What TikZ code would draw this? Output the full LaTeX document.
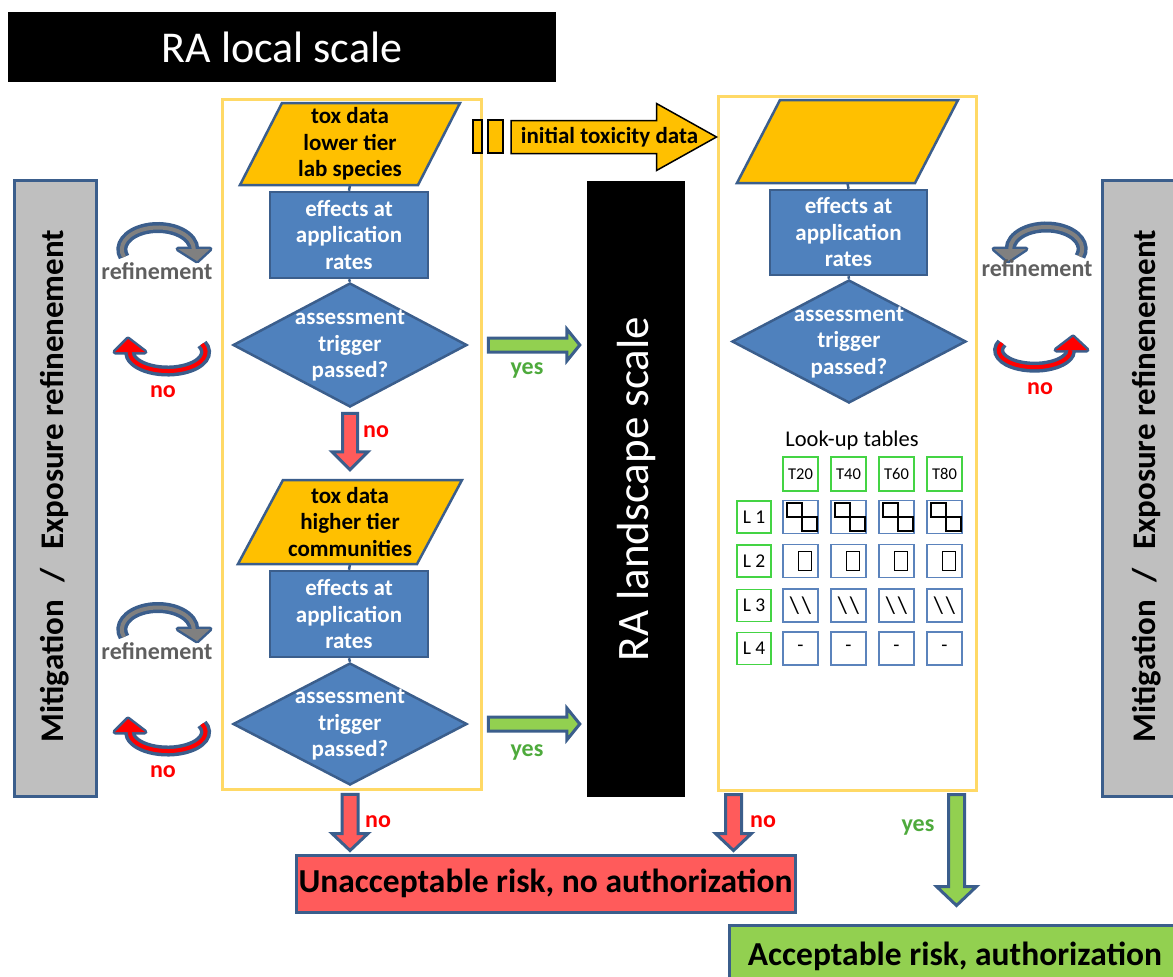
\documentclass[tikz,border=0pt]{standalone}
\usepackage{fontspec}
\setmainfont{Carlito}
\usetikzlibrary{shapes.geometric,calc}

\definecolor{bdark}{HTML}{3B5E8C}
\definecolor{bfill}{HTML}{4F81BD}
\definecolor{orng}{HTML}{FFC000}
\definecolor{redf}{HTML}{FF5B5B}
\definecolor{greenf}{HTML}{92D050}
\definecolor{yframe}{HTML}{FFD966}
\definecolor{barg}{HTML}{BFBFBF}
\definecolor{yestxt}{HTML}{4EAA3C}
\definecolor{notxt}{HTML}{FF0000}
\definecolor{reftxt}{HTML}{5F5F5F}
\definecolor{tgreen}{HTML}{44D444}
\definecolor{cellb}{HTML}{5B83BC}
\definecolor{loopgray}{HTML}{808080}

\newcommand\fsz[2]{\fontsize{#1}{#2}\selectfont}

% block arrow pointing down: start, tip, shaft half width, head half width, head length, style
\newcommand\vblock[6]{%
  \draw[#6] let \p1=#1, \p2=#2 in
    (\x1-#3,\y1) -- (\x1+#3,\y1) -- (\x1+#3,\y2+#5) -- (\x1+#4,\y2+#5) -- (\x1,\y2)
    -- (\x1-#4,\y2+#5) -- (\x1-#3,\y2+#5) -- cycle;}
% block arrow pointing right
\newcommand\hblock[6]{%
  \draw[#6] let \p1=#1, \p2=#2 in
    (\x1,\y1+#3) -- (\x2-#5,\y1+#3) -- (\x2-#5,\y1+#4) -- (\x2,\y1)
    -- (\x2-#5,\y1-#4) -- (\x2-#5,\y1-#3) -- (\x1,\y1-#3) -- cycle;}
% curved arrow: start point, arc options, head triangle, inner colour
\newcommand\curved[4]{%
  \filldraw[draw=bdark, line width=5, fill=#4, line join=round] #3;
  \draw[bdark, line width=11] #1 arc[#2];
  \draw[#4, line width=4] #1 arc[#2];
  \fill[#4] #3;}
% data parallelogram: name, x, y, half side, half slant, half height, text
\newcommand\para[7]{%
  \draw[parashape] let \p1=(#2,#3) in
    (\x1-#4+#5,\y1+#6) -- (\x1+#4+#5,\y1+#6) -- (\x1+#4-#5,\y1-#6) -- (\x1-#4-#5,\y1-#6) -- cycle;
  \node[ktext, minimum height={2*#6}, inner sep=0] (#1) at (#2,#3) {#7};}

\begin{document}
\begin{tikzpicture}[x=1pt,y=-1pt,
  frame/.style={draw=yframe, line width=3, minimum width=#1},
  parashape/.style={fill=orng, draw=bdark, line width=2.5, line join=miter},
  bbox/.style={rectangle, fill=bfill, draw=bdark, line width=2.5,
    minimum width=158, minimum height=86, inner sep=0, text=white, align=center,
    font=\bfseries\fsz{23}{26.5}},
  dia/.style={diamond, fill=bfill, draw=bdark, line width=2.5,
    minimum width=234, minimum height=124, inner sep=0},
  wtext/.style={text=white, align=center, font=\bfseries\fsz{23}{26.5}},
  ktext/.style={text=black, align=center, font=\bfseries\fsz{23}{26.5}},
  link/.style={draw=bdark, line width=2.5},
  redarrow/.style={fill=redf, draw=bdark, line width=3, line join=miter},
  greenarrow/.style={fill=greenf, draw=bdark, line width=3, line join=miter},
  nolbl/.style={text=notxt, font=\bfseries\fsz{24}{26}},
  yeslbl/.style={text=yestxt, font=\bfseries\fsz{24}{26}},
  reflbl/.style={text=reftxt, font=\bfseries\fsz{24}{26}},
  sidebar/.style={fill=barg, draw=bdark, line width=3, minimum width=82,
    minimum height=616, inner sep=0},
  sidetext/.style={rotate=90, font=\bfseries\fsz{33}{36}},
  tbox/.style={draw=tgreen, line width=1.5, minimum width=35, minimum height=34,
    inner sep=0, font=\fsz{16.5}{18}},
  lbox/.style={draw=tgreen, line width=1.5, minimum width=34, minimum height=32,
    inner sep=0, font=\fsz{19.5}{21}},
  cell/.style={draw=cellb, line width=1.5, minimum width=35, minimum height=33, inner sep=0},
  cellt/.style={font=\fsz{20}{22}},
  glyph/.style={draw=black, line width=2}
]
\useasboundingbox (0,0) rectangle (1173,977);

% ---- title ----
\node[fill=black, minimum width=548, minimum height=70, inner sep=0,
  text=white, font=\fsz{44}{46}] (title) at (282,47) {RA local scale};

% ---- side bars ----
\node[sidebar] (lbar) at (55,488.5) {};
\node[sidetext] (lbart) at (55,486) {Mitigation\hspace{0.55em}/\hspace{0.55em}Exposure refinenement};
\node[sidebar] (rbar) at (1143,488.5) {};
\node[sidetext] (rbart) at (1147,486) {Mitigation\hspace{0.55em}/\hspace{0.55em}Exposure refinenement};

% ---- frames ----
\node[frame=259, minimum height=690] (fr1) at (351.5,444) {};
\node[frame=258, minimum height=694] (fr2) at (847,443) {};

% ---- landscape scale bar ----
\node[fill=black, minimum width=98, minimum height=616, inner sep=0] (land) at (636,489) {};
\node[rotate=90, text=white, font=\fsz{45}{48}] (landt) at (636,489) {RA landscape scale};

% ---- lower tier column ----
\para{p1}{350}{144}{89}{21}{41}{tox data\\lower tier\\lab species}
\node[bbox] (r1) at (349,235) {effects at\\application\\rates};
\node[dia] (d1) at (350,345) {};
\node[wtext] (d1t) at (350,346) {assessment\\trigger\\passed?};
\draw[link] (p1.south) -- (r1.north);
\draw[link] (r1.south) -- (d1.north);

% ---- higher tier column ----
\para{p2}{350}{522}{89.5}{22.5}{42}{tox data\\higher tier\\communities}
\node[bbox] (r2) at (349,614) {effects at\\application\\rates};
\node[dia, minimum height=122] (d2) at (350,724) {};
\node[wtext] (d2t) at (350,725) {assessment\\trigger\\passed?};
\draw[link] (p2.south) -- (r2.north);
\draw[link] (r2.south) -- (d2.north);

% ---- landscape column ----
\para{p3}{847.5}{141.5}{89}{21.5}{41.5}{}
\node[bbox, minimum width=157, minimum height=85] (r3) at (848.5,232.5) {effects at\\application\\rates};
\node[dia, minimum height=123] (d3) at (849,341.5) {};
\node[wtext] (d3t) at (849,342.5) {assessment\\trigger\\passed?};
\draw[link] (p3.south) -- (r3.north);
\draw[link] (r3.south) -- (d3.north);

% ---- initial toxicity data arrow ----
\node[fill=orng, draw=black, line width=1.5, minimum width=9, minimum height=33, inner sep=0] (s1) at (477.5,136.5) {};
\node[fill=orng, draw=black, line width=1.5, minimum width=15, minimum height=33, inner sep=0] (s2) at (495.5,136.5) {};
\coordinate (istart) at (511,137);
\coordinate (itip) at (fr2.west |- istart);
\hblock{(istart)}{(itip)}{16.5}{33.5}{60}{fill=orng, draw=black, line width=1.5}
\node[ktext] (itext) at (609.5,137) {initial toxicity data};

% ---- decision arrows ----
\vblock{($(d1.south)+(0,5)$)}{($(p2.north)+(0,-10)$)}{7.5}{18}{18}{redarrow}
\node[nolbl] (no1) at (376,432) {no};
\hblock{($(d1.east)+(20,0)$)}{($(land.west |- d1.east)+(-7,0)$)}{7}{16}{13}{greenarrow}
\node[yeslbl] (yes1) at (527,370) {yes};
\hblock{($(d2.east)+(20,0)$)}{($(land.west |- d2.east)+(-7,0)$)}{7}{16}{13}{greenarrow}
\node[yeslbl] (yes2) at (527,752) {yes};

% ---- outcomes ----
\node[fill=redf, draw=bdark, line width=3, minimum width=499, minimum height=57, inner sep=0,
  font=\bfseries\fsz{33.5}{36}] (unacc) at (545.5,883.5) {Unacceptable risk, no authorization};
\node[fill=greenf, draw=bdark, line width=3, minimum width=452, minimum height=62, inner sep=0,
  font=\bfseries\fsz{33.5}{36}] (acc) at (955,956) {Acceptable risk, authorization};

\vblock{($(d2.south)+(0,8)$)}{($(d2.south |- unacc.north)+(0,-3)$)}{8}{18}{17}{redarrow}
\node[nolbl] (no2) at (378,822) {no};
\coordinate (rno) at ($(fr2.south west)+(17,3)$);
\vblock{(rno)}{($(rno |- unacc.north)+(0,-3)$)}{8}{18}{17}{redarrow}
\node[nolbl] (no3) at (763,822) {no};
\coordinate (gyes) at ($(fr2.south east)+(-21,3)$);
\vblock{(gyes)}{($(gyes |- acc.north)+(0,-18)$)}{8}{20}{19}{greenarrow}
\node[yeslbl] (yes3) at (918,827) {yes};

% ---- refinement loops, left ----
\foreach \dy/\k in {0/a,380/b} {
  \curved{(124,{257+\dy})}{start angle=200, end angle=0, x radius=36pt, y radius=22pt}
    {(178,{249+\dy}) -- (197,{261+\dy}) -- (210,{249+\dy}) -- cycle}{loopgray}
  \node[reflbl] (lref\k) at (157,{271+\dy}) {refinement};
  \curved{(202,{344+\dy})}{start angle=25, end angle=-180, x radius=38pt, y radius=19pt}
    {(115,{352+\dy}) -- (128,{339+\dy}) -- (145,{352+\dy}) -- cycle}{red}
  \node[nolbl] (lno\k) at (163,{392+\dy}) {no};
}

% ---- refinement loop, right ----
\curved{(1080,256.5)}{start angle=-20, end angle=180, x radius=36pt, y radius=22pt}
  {(994,249) -- (1008,261) -- (1026,249) -- cycle}{loopgray}
\node[reflbl] (rref) at (1037,268) {refinement};
\curved{(1002,343)}{start angle=155, end angle=360, x radius=36pt, y radius=17pt}
  {(1056,350) -- (1073,337) -- (1087,350) -- cycle}{red}
\node[nolbl] (rno2) at (1040,389) {no};

% ---- look-up tables ----
\node[font=\fsz{22.5}{24}] (lut) at (852,440) {Look-up tables};
\foreach \j/\x/\t in {1/800.5/T20,2/848.5/T40,3/896.5/T60,4/944.5/T80}
  \node[tbox] (t\j) at (\x,474) {\t};
\foreach \i/\y in {1/517,2/561,3/605.5,4/648.5} {
  \node[lbox] (l\i) at (754,\y) {L \i};
  \foreach \j/\x in {1/800.5,2/848.5,3/896.5,4/944.5}
    \node[cell] (c\i\j) at (\x,\y) {};
}
\foreach \j in {1,...,4} {
  \draw[glyph] ($(c1\j)+(-14,-14)$) rectangle ++(15,14);
  \draw[glyph] ($(c1\j)+(1,0)$) rectangle ++(15,14);
  \draw[glyph, line width=1.6] ($(c2\j)+(-2,-9.5)$) rectangle ++(13,19);
  \node[cellt, font=\fsz{24}{26}] (bs\j) at (c3\j) {\textbackslash\hspace{0.12em}\textbackslash};
  \node[cellt] (da\j) at (c4\j) {-};
}
\end{tikzpicture}
\end{document}
